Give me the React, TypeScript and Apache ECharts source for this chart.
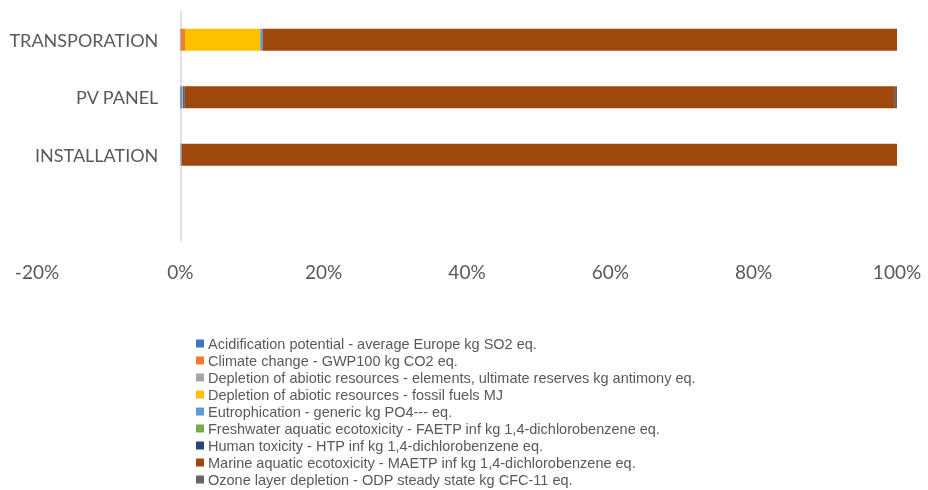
import React, { useEffect, useRef } from "react";
import * as echarts from "echarts";

const categories = ["", "INSTALLATION", "PV PANEL", "TRANSPORATION"];
const seriesNames = [
  "Acidification potential - average Europe kg SO2 eq.",
  "Climate change - GWP100 kg CO2 eq.",
  "Depletion of abiotic resources - elements, ultimate reserves kg antimony eq.",
  "Depletion of abiotic resources - fossil fuels MJ",
  "Eutrophication - generic kg PO4--- eq.",
  "Freshwater aquatic ecotoxicity - FAETP inf kg 1,4-dichlorobenzene eq.",
  "Human toxicity - HTP inf kg 1,4-dichlorobenzene eq.",
  "Marine aquatic ecotoxicity - MAETP inf kg 1,4-dichlorobenzene eq.",
  "Ozone layer depletion - ODP steady state kg CFC-11 eq.",
];
const colors = ["#4472C4", "#ED7D31", "#A5A5A5", "#FFC000", "#5B9BD5", "#70AD47", "#264478", "#9E480E", "#636363"];
// values in % per category (bottom to top: blank, INSTALLATION, PV PANEL, TRANSPORATION)
const acidification = [null, 0.05, 0.2, 0.05];
const climateChange = [null, 0.02, 0.05, 0.6];
const depletionElements = [null, 0.0, 0.0, 0.0];
const depletionFossil = [null, 0.02, 0.05, 10.5];
const eutrophication = [null, 0.1, 0.1, 0.3];
const freshwater = [null, 0.0, 0.0, 0.0];
const humanToxicity = [null, 0.01, 0.2, 0.05];
const marine = [null, 99.8, 99.1, 88.5];
const ozone = [null, 0.0, 0.3, 0.0];
const seriesValues = [acidification, climateChange, depletionElements, depletionFossil, eutrophication, freshwater, humanToxicity, marine, ozone];
const xTicks = { min: -20, max: 100, interval: 20 };

export default function App() {
  const ref = useRef<HTMLDivElement>(null);
  useEffect(() => {
    const chart = echarts.init(ref.current!, null, { renderer: "svg" });
    const gridLeft = 37;
    const gridRight = 31;
    const plotWidth = 928 - gridLeft - gridRight;
    const zeroOffset = (plotWidth * (0 - xTicks.min)) / (xTicks.max - xTicks.min);
    chart.setOption({
      animation: false,
      color: colors,
      textStyle: { fontFamily: "Lato" },
      grid: { left: gridLeft, right: gridRight, top: 11, bottom: 249, containLabel: false, outerBoundsMode: "none" },
      xAxis: {
        type: "value",
        min: xTicks.min,
        max: xTicks.max,
        interval: xTicks.interval,
        axisLine: { show: false },
        axisTick: { show: false },
        splitLine: { show: false },
        axisLabel: { formatter: "{value}%", color: "#595959", fontSize: 19, margin: 21, fontFamily: "Lato" },
      },
      yAxis: {
        type: "category",
        data: categories,
        offset: -zeroOffset,
        axisLine: { show: true, onZero: false, lineStyle: { color: "#D9D9D9", width: 1.5 } },
        axisTick: { show: false },
        axisLabel: { color: "#595959", fontSize: 18, margin: 22, fontFamily: "Lato" },
      },
      legend: {
        orient: "vertical",
        left: 196,
        top: 335,
        padding: 0,
        itemWidth: 8,
        itemHeight: 8,
        itemGap: 0,
        icon: "rect",
        textStyle: { color: "#595959", fontSize: 14.5, lineHeight: 17, fontFamily: "Liberation Sans", padding: [0, 0, 0, -1] },
        data: seriesNames,
      },
      series: seriesNames.map((name, i) => ({
        name,
        type: "bar",
        stack: "total",
        barWidth: 22,
        data: seriesValues[i],
        itemStyle: { color: colors[i] },
      })),
    });
    return () => chart.dispose();
  }, []);
  return <div ref={ref} style={{ position: "fixed", left: 0, top: 0, width: 928, height: 490 }} />;
}
